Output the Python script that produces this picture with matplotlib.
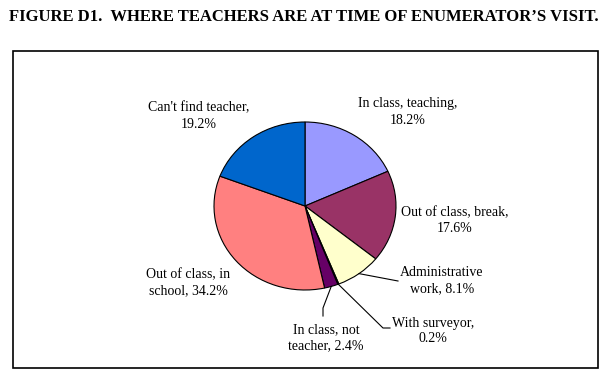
import numpy as np
import matplotlib.pyplot as plt
from matplotlib.patches import Rectangle

plt.rcParams['font.family'] = ['Liberation Serif', 'DejaVu Serif']

# slices, clockwise from 12 o'clock
labels = ["In class, teaching,\n18.2%", "Out of class, break,\n17.6%",
          "Administrative\nwork, 8.1%", "With surveyor,\n0.2%",
          "In class, not\nteacher, 2.4%", "Out of class, in\nschool, 34.2%",
          "Can't find teacher,\n19.2%"]
shares = [18.2, 17.6, 8.1, 0.2, 2.4, 34.2, 19.2]
colors = ['#9999FF', '#993366', '#FFFFCC', '#CCFFFF', '#660066', '#FF8080', '#0066CC']

W, H = 610, 377
fig = plt.figure(figsize=(W / 100, H / 100), dpi=100)

def fx(x):
    return x / W

def fy(y):
    return 1 - y / H

fig.text(fx(304), fy(17), "FIGURE D1.  WHERE TEACHERS ARE AT TIME OF ENUMERATOR\u2019S VISIT.",
         ha='center', va='center', fontsize=12, fontweight='bold')

# chart frame
fig.patches.append(Rectangle((fx(13), fy(368)), fx(585), (368 - 51) / H,
                             transform=fig.transFigure, fill=False, edgecolor='black', lw=1.2))

# pie axes (slightly wider than tall, like the original)
cx, cy, rx, ry = 305, 206, 91, 84
ax = fig.add_axes([fx(cx - rx), fy(cy + ry), 2 * rx / W, 2 * ry / H])
wedges, _ = ax.pie(shares, colors=colors, startangle=90, counterclock=False,
                   wedgeprops=dict(edgecolor='black', linewidth=0.8))
ax.set_aspect('auto')
ax.set_xlim(-1, 1)
ax.set_ylim(-1, 1)
ax.axis('off')

# label positions (centre of text block, pixels)
label_pos = [(408, 112), (455, 221), (442, 281), (433, 331), (326, 338), (188, 283), (199, 116)]
for lab, (x, y) in zip(labels, label_pos):
    fig.text(fx(x), fy(y), lab, ha='center', va='center', fontsize=10, linespacing=1.3)

# leader lines for the small slices
total = sum(shares)
cum = np.cumsum([0] + shares)
def edge(i):
    mid = (cum[i] + cum[i + 1]) / 2 / total
    a = np.deg2rad(90 - 360 * mid)
    return np.cos(a), np.sin(a)

leaders = {2: [(398, 281)], 3: [(383, 328), (390, 328)], 4: [(323, 308), (323, 316)]}
for i, pts in leaders.items():
    ex, ey = edge(i)
    xs = [cx + ex * rx] + [p[0] for p in pts]
    ys = [cy - ey * ry] + [p[1] for p in pts]
    fig.add_artist(plt.Line2D([fx(v) for v in xs], [fy(v) for v in ys],
                              transform=fig.transFigure, color='black', lw=0.8))

fig.savefig('out.png', dpi=100)
